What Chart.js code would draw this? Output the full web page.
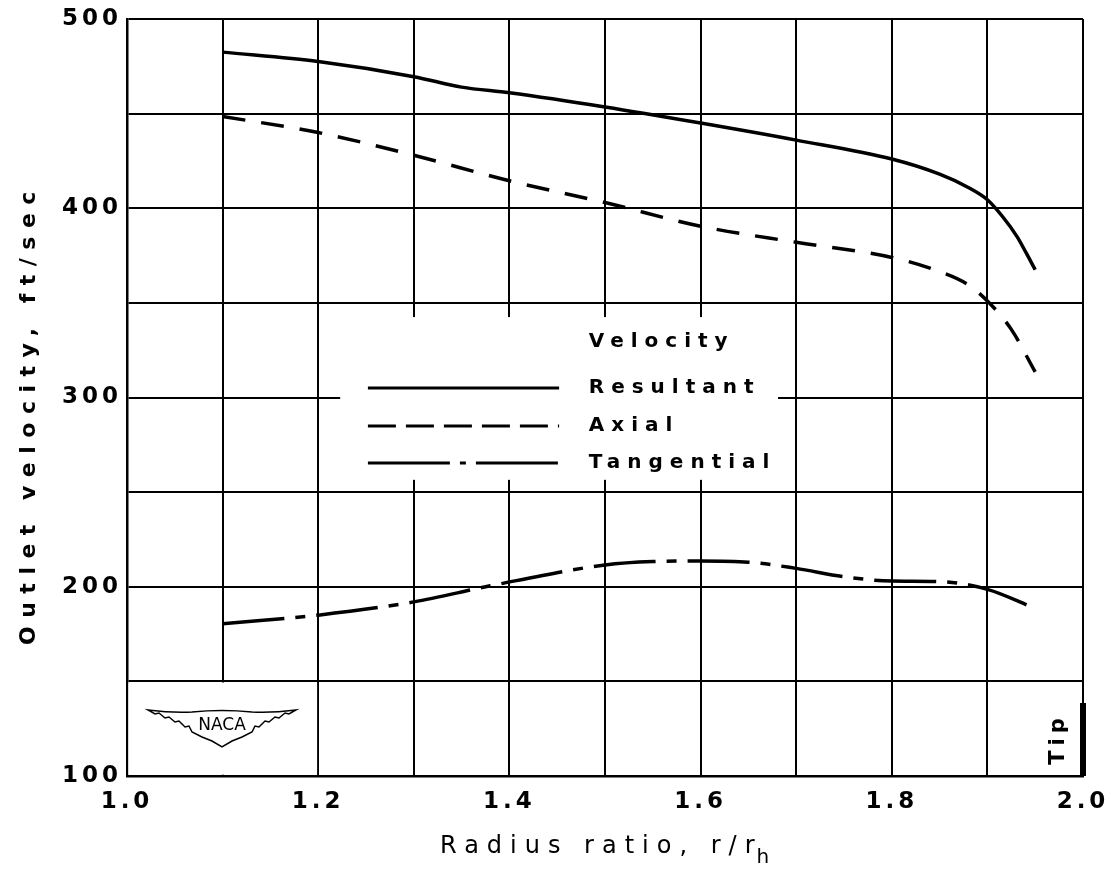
<!DOCTYPE html>
<html>
<head>
<meta charset="utf-8">
<title>Outlet velocity vs radius ratio</title>
<script src="https://cdn.jsdelivr.net/npm/chart.js@4.4.1/dist/chart.umd.min.js"></script>
<style>
  html, body { margin: 0; padding: 0; background: #fff; }
  canvas { display: block; }
</style>
</head>
<body>
<canvas id="velocityChart" width="1111" height="870"></canvas>
<script>
// radius ratio r/rh and outlet velocity (ft/sec) for each velocity component
const resultantR = [1.1, 1.2, 1.3, 1.35, 1.4, 1.5, 1.6, 1.7, 1.8, 1.85, 1.88, 1.9, 1.916, 1.931, 1.941, 1.95];
const resultantV = [482.5, 477.5, 469.5, 464, 461, 453.5, 445, 436, 426, 418, 411, 404.5, 395.5, 385, 376, 367.5];

const axialR = [1.1, 1.2, 1.3, 1.4, 1.5, 1.6, 1.7, 1.8, 1.85, 1.88, 1.9, 1.925, 1.95];
const axialV = [448.5, 440, 428, 414.5, 403, 390.5, 382, 374, 366.5, 359.5, 351, 336, 313.5];

const tangentialR = [1.1, 1.2, 1.3, 1.38, 1.5, 1.55, 1.6, 1.65, 1.7, 1.75, 1.8, 1.85, 1.9, 1.95];
const tangentialV = [180.5, 185, 192, 200.5, 211.5, 213.3, 213.6, 213, 209.7, 205.3, 203, 202.7, 198.6, 188.5];

// labelled ticks (grid runs every 0.1 and every 50)
const xLabelValues = [1.0, 1.2, 1.4, 1.6, 1.8, 2.0];
const yLabelValues = [100, 200, 300, 400, 500];

const FONT = 'DejaVu Sans';

const toPoints = (rs, vs) => rs.map((r, i) => ({ x: r, y: vs[i] }));

function drawLogo(ctx, cx, ty) {
  // winged NACA badge: feathered lower edge, shield in the middle
  const half = [[74, 0], [67, 4], [63, 3], [57, 8], [53, 7], [47, 12], [43, 11], [37, 17], [33, 16], [30, 22], [20, 27], [10, 31], [0, 37]];
  ctx.save();
  ctx.beginPath();
  ctx.moveTo(cx - 74, ty);
  ctx.quadraticCurveTo(cx - 50, ty + 3, cx - 30, ty + 2);
  ctx.quadraticCurveTo(cx, ty - 1, cx + 30, ty + 2);
  ctx.quadraticCurveTo(cx + 50, ty + 3, cx + 74, ty);
  half.forEach(([dx, dy]) => ctx.lineTo(cx + dx, ty + dy));
  half.slice().reverse().forEach(([dx, dy]) => ctx.lineTo(cx - dx, ty + dy));
  ctx.closePath();
  ctx.fillStyle = '#fff';
  ctx.fill();
  ctx.lineWidth = 1.5;
  ctx.strokeStyle = '#000';
  ctx.stroke();
  ctx.fillStyle = '#000';
  ctx.font = '17px ' + FONT;
  ctx.letterSpacing = '0px';
  ctx.textAlign = 'center';
  ctx.textBaseline = 'middle';
  ctx.fillText('NACA', cx, ty + 16);
  ctx.restore();
}

const sheetDecor = {
  id: 'sheetDecor',
  beforeDraw(chart) {
    // wide lettering for the tick labels
    chart.ctx.letterSpacing = '4px';
  },
  beforeDatasetsDraw(chart) {
    const { ctx, chartArea: area, scales: { x, y } } = chart;
    ctx.save();
    ctx.fillStyle = '#fff';
    // clear the grid behind the key
    const lx0 = x.getPixelForValue(1.223), lx1 = x.getPixelForValue(1.681);
    const ly0 = y.getPixelForValue(342.5), ly1 = y.getPixelForValue(256.5);
    ctx.fillRect(lx0, ly0, lx1 - lx0, ly1 - ly0);
    // clear the grid in the badge cell
    const nx0 = x.getPixelForValue(1.0) + 1.3, nx1 = x.getPixelForValue(1.2) - 1.1;
    const ny0 = y.getPixelForValue(150) + 1.1, ny1 = y.getPixelForValue(100) - 1.3;
    ctx.fillRect(nx0, ny0, nx1 - nx0, ny1 - ny0);
    ctx.restore();

    drawLogo(ctx, area.left + 95, area.bottom - 66);

    // tip marker on the right edge
    ctx.save();
    ctx.fillStyle = '#000';
    ctx.fillRect(area.right - 3, area.bottom - 73, 6, 73);
    ctx.translate(area.right - 24, area.bottom - 35);
    ctx.rotate(-Math.PI / 2);
    ctx.font = 'bold 21px ' + FONT;
    ctx.letterSpacing = '5px';
    ctx.textAlign = 'center';
    ctx.textBaseline = 'middle';
    ctx.fillText('Tip', 2, 0);
    ctx.restore();
  },
  afterDatasetsDraw(chart) {
    const { ctx, scales: { x } } = chart;
    const lineX0 = x.getPixelForValue(1.252);
    const lineX1 = x.getPixelForValue(1.452);
    const textX = x.getPixelForValue(1.483);
    const rowsY = [388, 426, 463];

    ctx.save();
    ctx.fillStyle = '#000';
    ctx.strokeStyle = '#000';
    ctx.font = 'bold 20px ' + FONT;
    ctx.letterSpacing = '7px';
    ctx.textAlign = 'left';
    ctx.textBaseline = 'middle';
    ctx.fillText('Velocity', textX, 342);

    chart.data.datasets.forEach((ds, i) => {
      ctx.beginPath();
      ctx.lineWidth = 3;
      ctx.setLineDash(ds.legendDash || []);
      ctx.moveTo(lineX0, rowsY[i]);
      ctx.lineTo(lineX1, rowsY[i]);
      ctx.stroke();
      ctx.setLineDash([]);
      ctx.fillText(ds.label, textX, rowsY[i]);
    });
    ctx.restore();

    // axis titles
    ctx.save();
    ctx.fillStyle = '#000';
    ctx.font = '24px ' + FONT;
    ctx.letterSpacing = '8px';
    ctx.textAlign = 'left';
    ctx.textBaseline = 'alphabetic';
    const main = 'Radius ratio, r/r';
    ctx.fillText(main, 440, 853);
    const w = ctx.measureText(main).width;
    ctx.font = '20px ' + FONT;
    ctx.fillText('h', 440 + w - 6, 863);
    ctx.restore();

    ctx.save();
    ctx.fillStyle = '#000';
    ctx.translate(29, 645);
    ctx.rotate(-Math.PI / 2);
    ctx.font = 'bold 22px ' + FONT;
    ctx.letterSpacing = '8.5px';
    ctx.textAlign = 'left';
    ctx.textBaseline = 'middle';
    ctx.fillText('Outlet velocity, ft/sec', 0, 0);
    ctx.restore();
  }
};

const lineStyle = {
  borderColor: '#000',
  borderWidth: 3.5,
  pointRadius: 0,
  fill: false,
  cubicInterpolationMode: 'monotone',
  borderCapStyle: 'butt'
};

new Chart(document.getElementById('velocityChart').getContext('2d'), {
  type: 'line',
  data: {
    datasets: [
      { ...lineStyle, label: 'Resultant', data: toPoints(resultantR, resultantV), borderDash: [], legendDash: [] },
      { ...lineStyle, label: 'Axial', data: toPoints(axialR, axialV), borderDash: [23, 16], legendDash: [28, 10] },
      { ...lineStyle, label: 'Tangential', data: toPoints(tangentialR, tangentialV), borderDash: [62, 11, 10, 11], legendDash: [82, 10, 6, 10] }
    ]
  },
  options: {
    responsive: false,
    animation: false,
    devicePixelRatio: 1,
    layout: { padding: { top: 19, right: 28, bottom: 0, left: 0 } },
    plugins: {
      legend: { display: false },
      tooltip: { enabled: false }
    },
    scales: {
      x: {
        type: 'linear',
        min: 1.0,
        max: 2.0,
        afterFit: (scale) => {
          scale.height = 94;
          scale.paddingLeft = 0;
          scale.paddingRight = 0;
        },
        grid: { color: '#000', lineWidth: 2, drawTicks: false, tickLength: 0 },
        border: { color: '#000', width: 2.5 },
        ticks: {
          stepSize: 0.1,
          autoSkip: false,
          maxRotation: 0,
          padding: 12,
          color: '#000',
          font: { family: FONT, size: 23, weight: 'bold' },
          callback: (v) => xLabelValues.some(l => Math.abs(l - v) < 1e-6) ? Number(v).toFixed(1) : ''
        }
      },
      y: {
        type: 'linear',
        min: 100,
        max: 500,
        afterFit: (scale) => {
          scale.width = 127;
          scale.paddingTop = 0;
          scale.paddingBottom = 0;
        },
        grid: { color: '#000', lineWidth: 2, drawTicks: false, tickLength: 0 },
        border: { color: '#000', width: 2.5 },
        ticks: {
          stepSize: 50,
          autoSkip: false,
          padding: 5,
          color: '#000',
          font: { family: FONT, size: 23, weight: 'bold' },
          callback: (v) => yLabelValues.includes(v) ? String(v) : ''
        }
      }
    }
  },
  plugins: [sheetDecor]
});
</script>
</body>
</html>
